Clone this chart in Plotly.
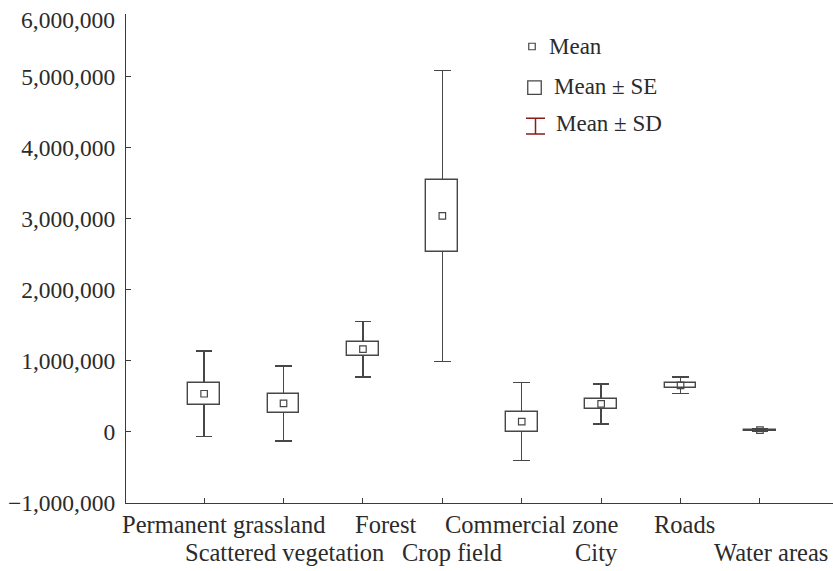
import plotly.graph_objects as go

categories = ["Permanent grassland", "Scattered vegetation", "Forest", "Crop field",
              "Commercial zone", "City", "Roads", "Water areas"]
mean = [536000, 400000, 1164000, 3036000, 144000, 393000, 655000, 25000]
se = [152000, 134000, 99000, 512000, 140000, 72000, 33000, 8000]
sd = [603000, 526000, 389000, 2047000, 547000, 283000, 118000, 15000]
y_ticks = [-1000000, 0, 1000000, 2000000, 3000000, 4000000, 5000000]
top_label = "6,000,000"
legend_labels = ["Mean", "Mean ± SE", "Mean ± SD"]

FONT = "Liberation Serif"
TXT = "#2b2b2b"
LINE = "#474747"
AXIS = "#3a3a3a"
SDRED = "#8b1a1a"

# plot-area geometry (pixels)
L, R, T, B = 126, 833, 14, 503.3
PW, PH = R - L, B - T


def px_x(p):
    return (p - L) / PW


def px_y(p):
    return (B - p) / PH


lower_se = [m - s for m, s in zip(mean, se)]
two_se = [2 * s for s in se]

fig = go.Figure()
# invisible carrier bars: their tops sit at the mean and carry the ±SD whiskers
fig.add_trace(go.Bar(
    x=categories, y=mean, width=0.40,
    marker=dict(color="rgba(0,0,0,0)", line=dict(width=0)),
    error_y=dict(type="data", array=sd, symmetric=True, color=LINE, thickness=1.5, width=8.3),
    showlegend=False, hoverinfo="skip"))
# ±SE boxes
fig.add_trace(go.Bar(
    x=categories, y=two_se, base=lower_se, width=0.40,
    marker=dict(color="white", line=dict(color=LINE, width=1.4)),
    showlegend=False, hoverinfo="skip"))
# mean markers
fig.add_trace(go.Scatter(
    x=categories, y=mean, mode="markers",
    marker=dict(symbol="square-open", size=6.5, color=LINE, line=dict(width=1.2)),
    showlegend=False, hoverinfo="skip"))

# legend keys (overlay axes in plot-fraction units)
fig.add_trace(go.Scatter(x=[px_x(532)], y=[px_y(46.5)], xaxis="x2", yaxis="y2", mode="markers",
                         marker=dict(symbol="square-open", size=6.5, color=LINE, line=dict(width=1.2)),
                         showlegend=False, hoverinfo="skip"))
fig.add_trace(go.Scatter(x=[px_x(534.5)], y=[px_y(87.7)], xaxis="x2", yaxis="y2", mode="markers",
                         marker=dict(symbol="square-open", size=13.5, color=LINE, line=dict(width=1.3)),
                         showlegend=False, hoverinfo="skip"))
fig.add_trace(go.Scatter(x=[px_x(535.5)], y=[px_y(126.2)], xaxis="x2", yaxis="y2", mode="markers",
                         marker=dict(size=1, opacity=0),
                         error_y=dict(type="data", array=[7.8 / PH], symmetric=True,
                                      color=SDRED, thickness=1.5, width=9.5),
                         showlegend=False, hoverinfo="skip"))

annotations = []
for t, xx, yy in zip(legend_labels, [547, 552, 554], [46.5, 86.7, 123.5]):
    annotations.append(dict(text=t, x=px_x(xx), y=px_y(yy), xref="paper", yref="paper",
                            xanchor="left", yanchor="middle", showarrow=False,
                            font=dict(family=FONT, size=23, color=TXT)))

# category labels, staggered on two rows
label_shift = [19, 1, 23, 10, 10, -5, 4, 11]
row_y = [525, 553]
for i, c in enumerate(categories):
    annotations.append(dict(text=c, x=c, xref="x", y=px_y(row_y[i % 2]), yref="paper",
                            xanchor="center", yanchor="middle", xshift=label_shift[i],
                            showarrow=False, font=dict(family=FONT, size=24.5, color=TXT)))

annotations.append(dict(text=top_label, x=px_x(117), y=px_y(20.5), xref="paper", yref="paper",
                        xanchor="right", yanchor="middle", showarrow=False,
                        font=dict(family=FONT, size=23.5, color=TXT)))

fig.update_layout(
    width=833, height=571,
    margin=dict(l=L, r=833 - R, t=T, b=571 - B),
    paper_bgcolor="white", plot_bgcolor="white",
    barmode="overlay", bargap=0,
    font=dict(family=FONT, size=23.5, color=TXT),
    xaxis=dict(type="category", range=[-0.984, 7.92], tickvals=categories, showticklabels=False,
               showline=True, linecolor=AXIS, linewidth=1.3, ticks="inside", ticklen=5,
               tickcolor=AXIS, tickwidth=1.2, showgrid=False, zeroline=False),
    yaxis=dict(range=[-1000000, 5876000], tickvals=y_ticks, tickformat=",",
               showline=True, linecolor=AXIS, linewidth=1.3, ticks="inside", ticklen=5,
               tickcolor=AXIS, tickwidth=1.2, showgrid=False, zeroline=False,
               ticklabelstandoff=5, tickfont=dict(family=FONT, size=23.5, color=TXT)),
    xaxis2=dict(overlaying="x", range=[0, 1], visible=False, anchor="y2"),
    yaxis2=dict(overlaying="y", range=[0, 1], visible=False, anchor="x2"),
    annotations=annotations,
)

fig.write_html("out.html", config={"displayModeBar": False},
               post_script="document.body.style.margin='0px';")
